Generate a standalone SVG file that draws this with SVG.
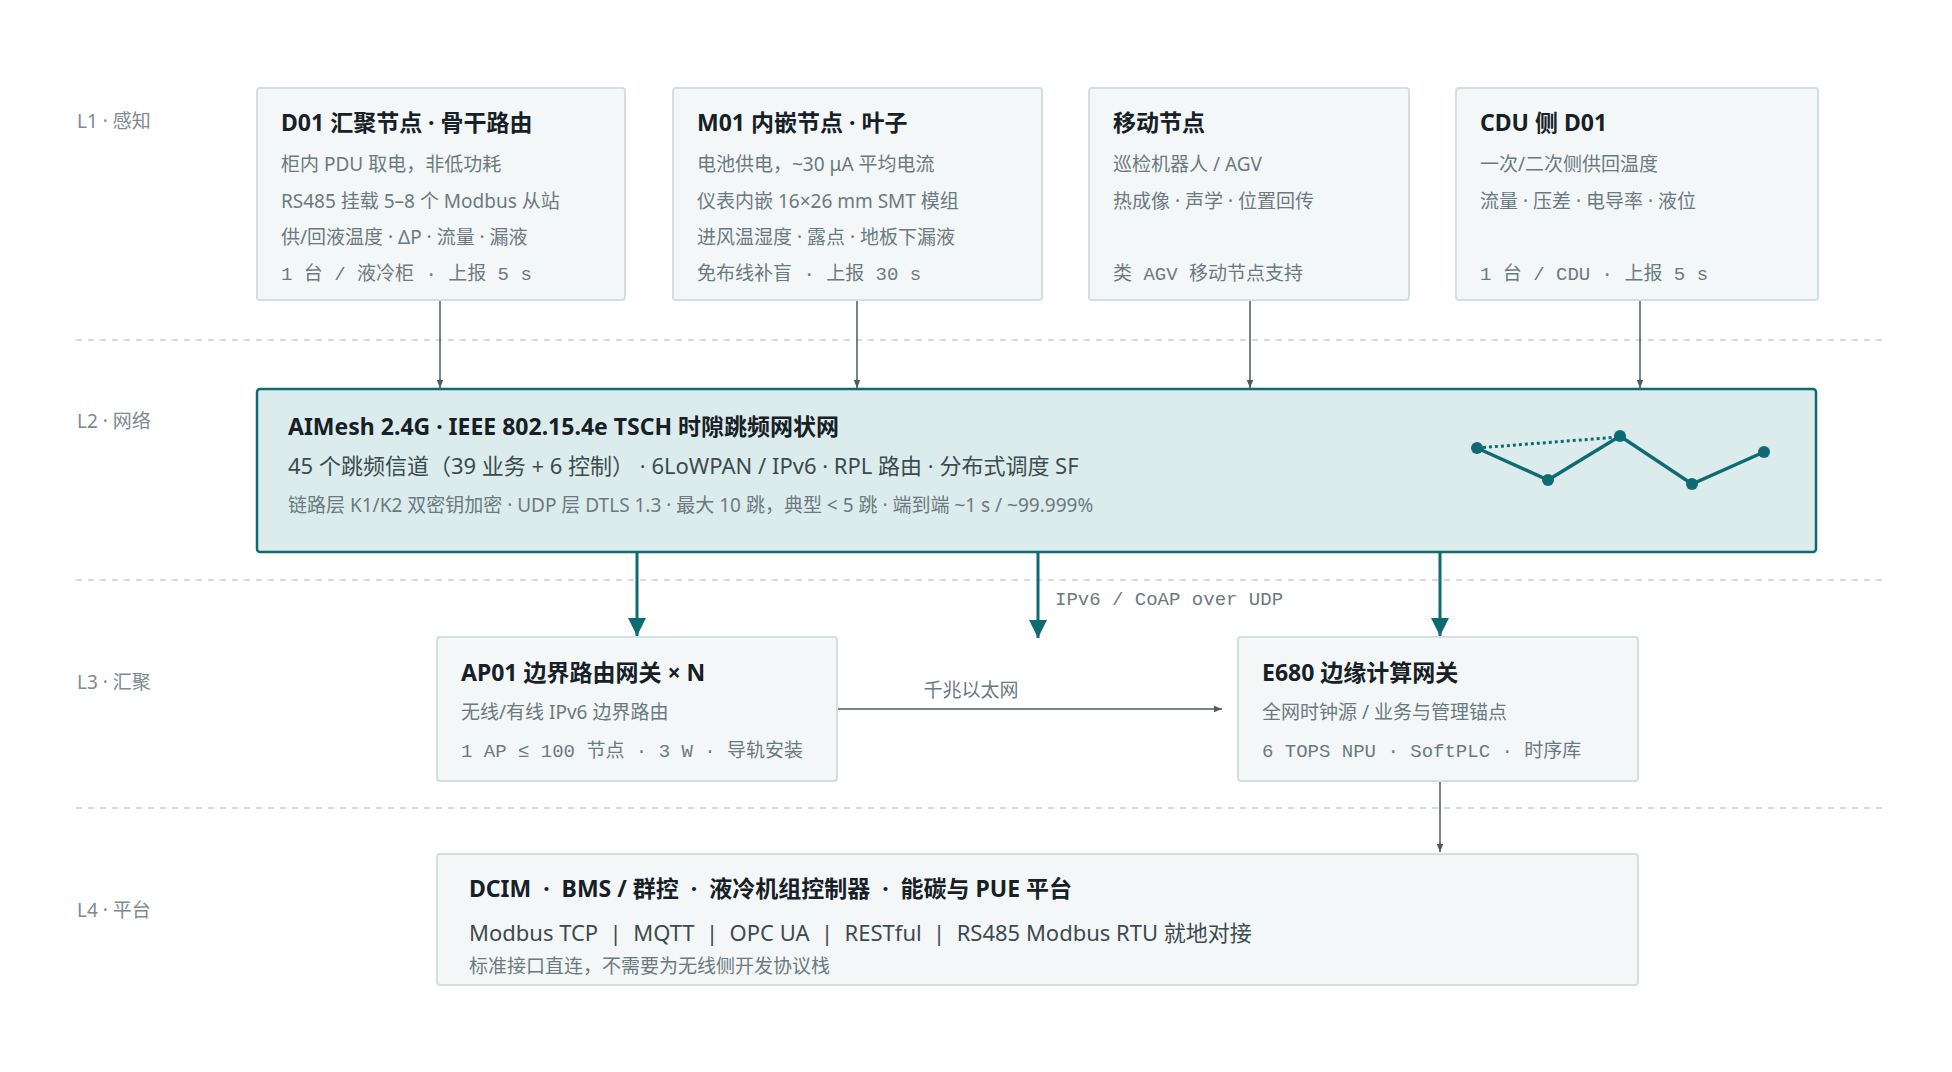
<svg xmlns="http://www.w3.org/2000/svg" width="1952" height="1072" viewBox="0 0 1952 1072">
<style>
text{font-family:"Noto Sans","Noto Sans CJK SC",sans-serif}
.lay{font-size:19px;fill:#7d8a8f}
.box{fill:#f3f7f7;stroke:#d3e0e0;stroke-width:2}
.t{font-size:23px;font-weight:700;fill:#162026}
.b{font-size:19px;fill:#6b7a80}
.m{font-family:"Liberation Mono","Noto Sans CJK SC",monospace;font-size:19px;fill:#6b7a80}
.dash{stroke:#d3dcdc;stroke-width:2;stroke-dasharray:6 6}
.thin{stroke:#4f5a60;stroke-width:1.5;fill:none}
.thick{stroke:#0e6b73;stroke-width:3;fill:none}
</style>
<defs>
<marker id="ag" viewBox="0 0 10 10" refX="10" refY="5" markerWidth="8" markerHeight="8" markerUnits="userSpaceOnUse" orient="auto"><path d="M0,1 L10,5 L0,9 z" fill="#4f5a60"/></marker>
<marker id="at" viewBox="0 0 10 10" refX="10" refY="5" markerWidth="22" markerHeight="18" markerUnits="userSpaceOnUse" orient="auto"><path d="M0,0 L10,5 L0,10 z" fill="#0e6b73"/></marker>
</defs>
<rect width="1952" height="1072" fill="#fff"/>
<g id="lanes">
<line class="dash" x1="76" y1="340" x2="1882" y2="340"/>
<line class="dash" x1="76" y1="580" x2="1882" y2="580"/>
<line class="dash" x1="76" y1="808" x2="1882" y2="808"/>
<text class="lay" x="77" y="128">L1 · 感知</text>
<text class="lay" x="77" y="428">L2 · 网络</text>
<text class="lay" x="77" y="689">L3 · 汇聚</text>
<text class="lay" x="77" y="917">L4 · 平台</text>
</g>
<g id="connectors">
<line class="thin" x1="440" y1="300" x2="440" y2="388" marker-end="url(#ag)"/>
<line class="thin" x1="857" y1="300" x2="857" y2="388" marker-end="url(#ag)"/>
<line class="thin" x1="1250" y1="300" x2="1250" y2="388" marker-end="url(#ag)"/>
<line class="thin" x1="1640" y1="300" x2="1640" y2="388" marker-end="url(#ag)"/>
<line class="thick" x1="637" y1="553" x2="637" y2="636" marker-end="url(#at)"/>
<line class="thick" x1="1038" y1="553" x2="1038" y2="638" marker-end="url(#at)"/>
<line class="thick" x1="1440" y1="553" x2="1440" y2="636" marker-end="url(#at)"/>
<text class="m" x="1055" y="605">IPv6 / CoAP over UDP</text>
<line class="thin" x1="838" y1="709" x2="1222" y2="709" marker-end="url(#ag)"/>
<text class="b" x="971" y="697" text-anchor="middle">千兆以太网</text>
<line class="thin" x1="1440" y1="781" x2="1440" y2="852" marker-end="url(#ag)"/>
</g>
<g id="d01">
<rect class="box" x="257" y="88" width="368" height="212" rx="3"/>
<text class="t" x="281" y="131">D01 汇聚节点 · 骨干路由</text>
<text class="b" x="281" y="171">柜内 PDU 取电，非低功耗</text>
<text class="b" x="281" y="208">RS485 挂载 5–8 个 Modbus 从站</text>
<text class="b" x="281" y="244">供/回液温度 · ΔP · 流量 · 漏液</text>
<text class="m" x="281" y="280">1 台 / 液冷柜 · 上报 5 s</text>
</g>
<g id="m01">
<rect class="box" x="673" y="88" width="369" height="212" rx="3"/>
<text class="t" x="697" y="131">M01 内嵌节点 · 叶子</text>
<text class="b" x="697" y="171">电池供电，~30 μA 平均电流</text>
<text class="b" x="697" y="208">仪表内嵌 16×26 mm SMT 模组</text>
<text class="b" x="697" y="244">进风温湿度 · 露点 · 地板下漏液</text>
<text class="m" x="697" y="280">免布线补盲 · 上报 30 s</text>
</g>
<g id="mobile">
<rect class="box" x="1089" y="88" width="320" height="212" rx="3"/>
<text class="t" x="1113" y="131">移动节点</text>
<text class="b" x="1113" y="171">巡检机器人 / AGV</text>
<text class="b" x="1113" y="208">热成像 · 声学 · 位置回传</text>
<text class="m" x="1113" y="280">类 AGV 移动节点支持</text>
</g>
<g id="cdu">
<rect class="box" x="1456" y="88" width="362" height="212" rx="3"/>
<text class="t" x="1480" y="131">CDU 侧 D01</text>
<text class="b" x="1480" y="171">一次/二次侧供回温度</text>
<text class="b" x="1480" y="208">流量 · 压差 · 电导率 · 液位</text>
<text class="m" x="1480" y="280">1 台 / CDU · 上报 5 s</text>
</g>
<g id="aimesh">
<rect x="257" y="389" width="1559" height="163" rx="3" fill="#dcecec" stroke="#0e6b73" stroke-width="2.5"/>
<text class="t" x="288" y="435">AIMesh 2.4G · IEEE 802.15.4e TSCH 时隙跳频网状网</text>
<text x="288" y="474" style="font-size:22px;fill:#3d4a50">45 个跳频信道（39 业务 + 6 控制） · 6LoWPAN / IPv6 · RPL 路由 · 分布式调度 SF</text>
<text class="b" x="288" y="512">链路层 K1/K2 双密钥加密 · UDP 层 DTLS 1.3 · 最大 10 跳，典型 &lt; 5 跳 · 端到端 ~1 s / ~99.999%</text>
<line x1="1477" y1="448" x2="1619" y2="437" stroke="#0e6b73" stroke-width="3" stroke-dasharray="3 3"/>
<polyline points="1477,448 1548,480 1620,436 1692,484 1764,452" fill="none" stroke="#0e6b73" stroke-width="3.5"/>
<g fill="#0e6b73"><circle cx="1477" cy="448" r="6"/><circle cx="1548" cy="480" r="6"/><circle cx="1620" cy="436" r="6"/><circle cx="1692" cy="484" r="6"/><circle cx="1764" cy="452" r="6"/></g>
</g>
<g id="ap01">
<rect class="box" x="437" y="637" width="400" height="144" rx="3"/>
<text class="t" x="461" y="681">AP01 边界路由网关 × N</text>
<text class="b" x="461" y="719">无线/有线 IPv6 边界路由</text>
<text class="m" x="461" y="757">1 AP ≤ 100 节点 · 3 W · 导轨安装</text>
</g>
<g id="e680">
<rect class="box" x="1238" y="637" width="400" height="144" rx="3"/>
<text class="t" x="1262" y="681">E680 边缘计算网关</text>
<text class="b" x="1262" y="719">全网时钟源 / 业务与管理锚点</text>
<text class="m" x="1262" y="757">6 TOPS NPU · SoftPLC · 时序库</text>
</g>
<g id="platform">
<rect class="box" x="437" y="854" width="1201" height="131" rx="3"/>
<text class="t" x="469" y="897" xml:space="preserve">DCIM  ·  BMS / 群控  ·  液冷机组控制器  ·  能碳与 PUE 平台</text>
<text x="469" y="941" style="font-size:22px;fill:#3d4a50" xml:space="preserve">Modbus TCP  |  MQTT  |  OPC UA  |  RESTful  |  RS485 Modbus RTU 就地对接</text>
<text class="b" x="469" y="973">标准接口直连，不需要为无线侧开发协议栈</text>
</g>
</svg>
